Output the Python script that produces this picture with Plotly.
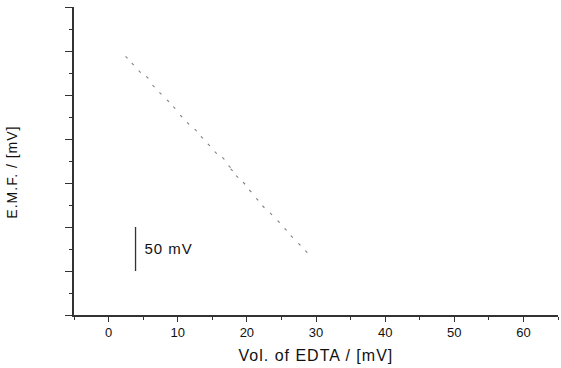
import plotly.graph_objects as go

# Titration data (Vol. of EDTA vs E.M.F.)
vol = [2.6, 3.5, 4.5, 5.6, 6.5, 7.5, 8.6, 9.5, 10.5, 11.5, 12.6, 13.5, 14.5, 15.5,
       16.6, 17.5, 17.8, 18.6, 19.6, 20.5, 21.5, 22.4, 23.5, 24.6, 25.6, 26.5, 27.6, 28.6]
emf = [292.8, 285.2, 276.5, 270.1, 260.2, 251.9, 243.2, 235.6, 226.1, 217.8, 210.2, 201.9,
       193.2, 184.4, 178.0, 168.5, 164.8, 157.2, 149.7, 140.9, 131.4, 123.0, 114.8, 106.0,
       97.4, 89.0, 80.3, 71.9]

scale_x = [3.9, 3.9]
scale_y = [50, 100]
scale_label = "50 mV"

fig = go.Figure()
fig.add_trace(go.Scatter(
    x=vol, y=emf, mode="markers",
    marker=dict(symbol="line-nw", size=2, color="#808080",
                line=dict(width=1.1, color="#808080")),
    showlegend=False,
))
fig.add_trace(go.Scatter(
    x=scale_x, y=scale_y, mode="lines",
    line=dict(color="#333333", width=1.3), showlegend=False,
))
fig.add_annotation(x=5.3, y=76, xref="x", yref="y", text=scale_label, showarrow=False,
                   xanchor="left", yanchor="middle",
                   font=dict(family="Liberation Sans, Arial", size=15, color="#111111"))
fig.add_annotation(x=0.5, y=-0.13, xref="paper", yref="paper", text="Vol. of EDTA / [mV]",
                   showarrow=False, xanchor="center", yanchor="middle",
                   font=dict(family="Liberation Sans, Arial", size=16, color="#111111"))
fig.add_annotation(x=-0.128, y=0.464, xref="paper", yref="paper", text="E.M.F. / [mV]",
                   showarrow=False, xanchor="center", yanchor="middle", textangle=-90,
                   font=dict(family="Liberation Sans, Arial", size=14, color="#111111"))

fig.update_layout(
    width=561, height=368,
    margin=dict(l=74, r=3, t=7, b=53),
    paper_bgcolor="white", plot_bgcolor="white",
    font=dict(family="Liberation Sans, Arial", size=13, color="#111111"),
)
fig.update_xaxes(
    range=[-5, 65], showgrid=False, zeroline=False,
    showline=True, linecolor="#333333", linewidth=1.5,
    ticks="outside", ticklen=5, tickwidth=1.2, tickcolor="#333333",
    tickmode="linear", tick0=0, dtick=10,
    minor=dict(ticks="outside", ticklen=3, tickwidth=1, tickcolor="#333333", dtick=5, tick0=0, showgrid=False),
    tickfont=dict(size=13, color="#111111"),
)
fig.update_yaxes(
    range=[0, 350], showgrid=False, zeroline=False,
    showline=True, linecolor="#333333", linewidth=1.5,
    ticks="outside", ticklen=7, tickwidth=1.2, tickcolor="#333333",
    tickmode="linear", tick0=0, dtick=50, showticklabels=False,
    minor=dict(ticks="outside", ticklen=3, tickwidth=1, tickcolor="#333333", dtick=25, tick0=0, showgrid=False),
)
post = """
document.body.style.margin='0';
document.querySelectorAll('.annotation-text').forEach(function(e){
  e.style.letterSpacing='1px';
});
"""
fig.write_html("out.html", post_script=post, config={"displayModeBar": False})
